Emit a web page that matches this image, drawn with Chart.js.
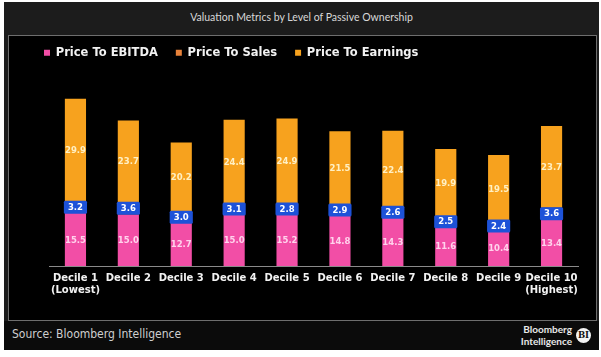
<!DOCTYPE html>
<html>
<head>
<meta charset="utf-8">
<script src="https://cdn.jsdelivr.net/npm/chart.js@4.4.0/dist/chart.umd.min.js"></script>
<style>
  html, body { margin:0; padding:0; background:#ffffff; width:601px; height:357px; overflow:hidden; }
  #frame { position:absolute; left:4px; top:2px; width:595px; height:348px; background:#1c1c1c; }
  #title { position:absolute; left:0; top:9px; width:595px; text-align:center; color:#d8d8d8;
           font-family:Lato, "Open Sans", sans-serif; font-size:10.5px; }
  #panel { position:absolute; left:4px; top:33px; width:587px; height:284px; background:#000;
           border:1px solid #6e6e6e; }
  #footer { position:absolute; left:0; top:319px; width:595px; height:29px; background:#0b0b0b; }
  #source { position:absolute; left:8px; top:6px; color:#cfcfcf;
            font-family:"DejaVu Sans Condensed", "DejaVu Sans", sans-serif; font-size:12px; }
  #logo { position:absolute; right:27px; top:3px; color:#e8e8e8; text-align:right;
          font-family:Lato, sans-serif; font-weight:bold; font-size:10px; line-height:11.5px; }
  #bi { position:absolute; left:572px; top:7px; width:15px; height:15px; border-radius:50%;
        background:#f4f4f4; color:#111; font-family:"DejaVu Serif", serif; font-weight:bold;
        font-size:8.5px; line-height:15px; text-align:center; }
  #chartBox { position:absolute; left:9px; top:29px; width:587px; height:290px; }
</style>
</head>
<body>
<div id="frame">
  <div id="title">Valuation Metrics by Level of Passive Ownership</div>
  <div id="panel"></div>
  <div id="footer">
    <div id="source">Source: Bloomberg Intelligence</div>
    <div id="logo">Bloomberg<br>Intelligence</div>
    <div id="bi">BI</div>
  </div>
</div>
<div id="chartBox"><canvas id="c" width="587" height="290"></canvas></div>
<script>
const categories = [
  ["Decile 1", "(Lowest)"], ["Decile 2"], ["Decile 3"], ["Decile 4"], ["Decile 5"],
  ["Decile 6"], ["Decile 7"], ["Decile 8"], ["Decile 9"], ["Decile 10", "(Highest)"]
];
const seriesNames = ["Price To EBITDA", "Price To Sales", "Price To Earnings"];
const priceToEbitda   = [15.5, 15.0, 12.7, 15.0, 15.2, 14.8, 14.3, 11.6, 10.4, 13.4];
const priceToSales    = [3.2, 3.6, 3.0, 3.1, 2.8, 2.9, 2.6, 2.5, 2.4, 3.6];
const priceToEarnings = [29.9, 23.7, 20.2, 24.4, 24.9, 21.5, 22.4, 19.9, 19.5, 23.7];

const PINK = '#f24ea6', SALES = '#e8823a', ORANGE = '#f7a21e', BLUE = '#1d52d8';

const legendHeight = {
  id: 'legendHeight',
  beforeInit(chart) {
    const orig = chart.legend.fit;
    chart.legend.fit = function () { orig.call(this); this.height = 65; };
  }
};

const valueLabels = {
  id: 'valueLabels',
  afterDatasetsDraw(chart) {
    const ctx = chart.ctx;
    ctx.save();
    ctx.textAlign = 'center';
    ctx.textBaseline = 'middle';
    ctx.font = 'bold 8.5px "DejaVu Sans", sans-serif';
    const colors = ['#ffd3ec', null, '#fff0c4'];
    [0, 2].forEach(di => {
      const meta = chart.getDatasetMeta(di);
      meta.data.forEach((el, i) => {
        const p = el.getProps(['x', 'y', 'base'], true);
        ctx.fillStyle = colors[di];
        ctx.fillText(chart.data.datasets[di].data[i].toFixed(1), p.x, (p.y + p.base) / 2 + 1);
      });
    });
    const meta = chart.getDatasetMeta(1);
    meta.data.forEach((el, i) => {
      const p = el.getProps(['x', 'y', 'base', 'width'], true);
      const cy = (p.y + p.base) / 2;
      const w = p.width + 2, h = 13;
      ctx.fillStyle = BLUE;
      ctx.beginPath();
      if (ctx.roundRect) ctx.roundRect(p.x - w / 2, cy - h / 2, w, h, 1.5); else ctx.rect(p.x - w / 2, cy - h / 2, w, h);
      ctx.fill();
      ctx.fillStyle = '#ffffff';
      ctx.fillText(chart.data.datasets[1].data[i].toFixed(1), p.x, cy + 0.5);
    });
    ctx.restore();
  }
};

new Chart(document.getElementById('c'), {
  type: 'bar',
  data: {
    labels: categories,
    datasets: [
      { label: seriesNames[0], data: priceToEbitda, backgroundColor: PINK },
      { label: seriesNames[1], data: priceToSales, backgroundColor: SALES },
      { label: seriesNames[2], data: priceToEarnings, backgroundColor: ORANGE }
    ]
  },
  options: {
    responsive: false,
    devicePixelRatio: 1,
    animation: false,
    layout: { padding: { left: 17, right: 18, top: 0, bottom: 16 } },
    datasets: { bar: { barPercentage: 0.8, categoryPercentage: 0.5 } },
    scales: {
      x: {
        stacked: true,
        grid: { display: false, drawTicks: false },
        border: { display: true, color: '#8a8a8a', width: 1 },
        ticks: {
          color: '#f2f2f2', padding: 7, maxRotation: 0, autoSkip: false,
          font: { family: '"DejaVu Sans", sans-serif', weight: 'bold', size: 10, lineHeight: 1.15 }
        }
      },
      y: {
        stacked: true, min: 0, max: 50,
        grid: { display: false, drawTicks: false },
        border: { display: false },
        ticks: { display: false },
        afterFit(scale) { scale.width = 23; }
      }
    },
    plugins: {
      legend: {
        position: 'top', align: 'start',
        labels: {
          color: '#f2f2f2', boxWidth: 6, boxHeight: 6, padding: 18,
          font: { family: '"DejaVu Sans", sans-serif', weight: 'bold', size: 11.5 }
        }
      },
      tooltip: { enabled: false }
    }
  },
  plugins: [legendHeight, valueLabels]
});
</script>
</body>
</html>
